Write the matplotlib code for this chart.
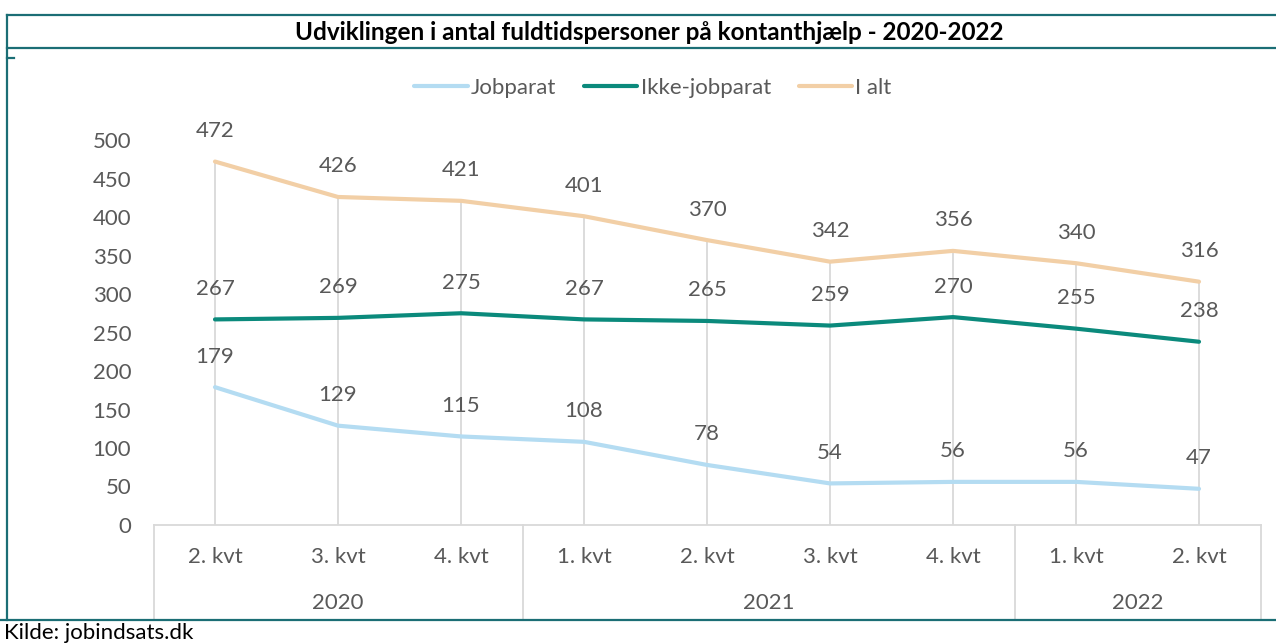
import matplotlib.pyplot as plt
from matplotlib.lines import Line2D

plt.rcParams['font.family'] = ['Lato', 'DejaVu Sans']

quarters = ['2. kvt', '3. kvt', '4. kvt', '1. kvt', '2. kvt', '3. kvt', '4. kvt', '1. kvt', '2. kvt']
years = ['2020', '2021', '2022']
year_sizes = [3, 4, 2]
jobparat = [179, 129, 115, 108, 78, 54, 56, 56, 47]
ikke_jobparat = [267, 269, 275, 267, 265, 259, 270, 255, 238]
i_alt = [472, 426, 421, 401, 370, 342, 356, 340, 316]

TXT = '#595959'
FRAME = '#1b6e75'
GRID = '#d9d9d9'
FS = 16

W, H = 1276, 644
fig = plt.figure(figsize=(W / 100, H / 100), dpi=100)

# plot area in pixels: x 153.5..1260.5, y(0)=525, y(500)=140
ax = fig.add_axes([153.5 / W, (H - 525) / H, 1107 / W, 385 / H])
x = list(range(len(quarters)))

# drop lines
ax.vlines(x, 0, i_alt, color=GRID, lw=1.3, zorder=1)

series = [('Jobparat', jobparat, '#b4dcf2'),
          ('Ikke-jobparat', ikke_jobparat, '#0b8a7c'),
          ('I alt', i_alt, '#f2cfa6')]
for name, vals, col in series:
    ax.plot(x, vals, color=col, lw=3, label=name, solid_capstyle='round', zorder=3)
    for xi, v in zip(x, vals):
        ax.annotate(str(v), (xi, v), xytext=(0, 22), textcoords='offset points',
                    ha='center', va='center', fontsize=FS, color=TXT,
                    annotation_clip=False)

ax.set_xlim(-0.5, len(quarters) - 0.5)
ax.set_ylim(0, 500)
ax.set_yticks(range(0, 501, 50))
ax.tick_params(axis='y', length=0, pad=16, labelsize=FS, labelcolor=TXT)
ax.set_xticks([])
for s in ['top', 'right', 'left']:
    ax.spines[s].set_visible(False)
ax.spines['bottom'].set_color(GRID)
ax.spines['bottom'].set_linewidth(1.3)

# category table below the axis
tr = ax.get_xaxis_transform()
y_bot = (H - 620 - (H - 525)) / 385
y_q = (H - 557 - (H - 525)) / 385
y_y = (H - 603 - (H - 525)) / 385
for xi, q in zip(x, quarters):
    ax.text(xi, y_q, q, transform=tr, ha='center', va='center', fontsize=FS, color=TXT)
start = -0.5
for yr, n in zip(years, year_sizes):
    ax.text(start + n / 2, y_y, yr, transform=tr, ha='center', va='center', fontsize=FS, color=TXT)
    start += n
bounds = [-0.5]
for n in year_sizes:
    bounds.append(bounds[-1] + n)
for b in bounds:
    ax.add_line(Line2D([b, b], [0, y_bot], transform=tr, color=GRID, lw=1.3, clip_on=False))

fig.legend(loc='center', bbox_to_anchor=(653 / W, 1 - 88 / H), ncol=3, frameon=False,
           fontsize=FS, labelcolor=TXT, handlelength=2.4, handletextpad=0.15,
           columnspacing=1.25)

# frame
def fline(xs, ys):
    fig.add_artist(Line2D([v / W for v in xs], [1 - v / H for v in ys],
                          color=FRAME, lw=1.6, transform=fig.transFigure))

fline([7, W], [15, 15])
fline([7, W], [48, 48])
fline([7, 7], [15, 620])
fline([0, W], [620, 620])
fline([7, 14], [58, 58])

fig.text(649 / W, 1 - 32 / H, 'Udviklingen i antal fuldtidspersoner på kontanthjælp - 2020-2022',
         ha='center', va='center', fontsize=17.5, fontweight='bold', color='black')
fig.text(4 / W, 1 - 623 / H, 'Kilde: jobindsats.dk', ha='left', va='top', fontsize=FS, color='black')

fig.savefig('out.png', dpi=100)
